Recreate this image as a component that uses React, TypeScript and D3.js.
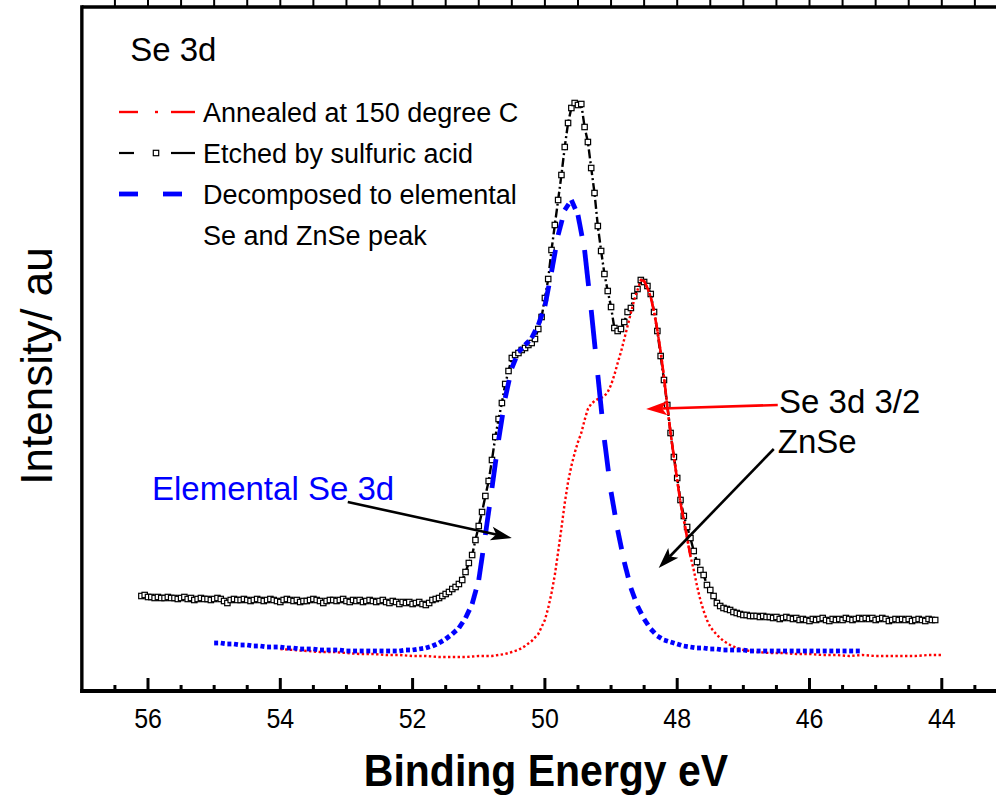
import React from "react";
import * as d3 from "d3";

// Etched by sulfuric acid: regular energy grid, intensity in a.u.
const etchedStart = 56.1;
const etchedStep = 0.05;
const etchedIntensity = [
  95, 96, 94, 94, 93, 94, 93, 93, 94, 93,
  93, 92, 93, 94, 92, 93, 91, 92, 93, 92,
  92, 91, 92, 93, 92, 90, 88, 91, 92, 91,
  91, 92, 91, 90, 91, 92, 91, 90, 91, 92,
  91, 90, 89, 91, 92, 91, 90, 91, 89, 90,
  90, 91, 92, 91, 90, 88, 90, 91, 91, 90,
  91, 92, 90, 89, 91, 90, 91, 89, 90, 91,
  90, 89, 90, 91, 89, 88, 90, 89, 87, 89,
  88, 89, 87, 88, 89, 87, 86, 88, 91, 92,
  93, 95, 97, 99, 102, 104, 107, 111, 119, 128,
  136, 151, 165, 179, 195, 210, 231, 254, 272, 288,
  307, 320, 333, 336, 338, 341, 343, 346, 348, 352,
  362, 374, 393, 412, 441, 466, 491, 516, 544, 568,
  583, 588, 586, 587, 564, 549, 523, 498, 465, 440,
  417, 400, 384, 363, 360, 362, 369, 379, 383, 395,
  402, 411, 409, 405, 397, 379, 360, 335, 311, 286,
  258, 234, 213, 191, 175, 164, 153, 140, 129, 121,
  116, 106, 101, 95, 88, 85, 83, 82, 81, 79,
  78, 77, 76, 76, 75, 75, 75, 74, 75, 74,
  74, 73, 74, 72, 73, 74, 73, 72, 73, 71,
  72, 71, 70, 72, 71, 72, 73, 71, 70, 72,
  71, 72, 71, 73, 72, 71, 72, 73, 72, 73,
  72, 73, 71, 72, 73, 72, 70, 71, 72, 71,
  72, 71, 72, 70, 71, 72, 71, 70, 72, 71,
  71,
];

// Annealed at 150 degree C: [binding energy eV, intensity]
const annealed: [number, number][] = [
  [54.0, 42], [53.8, 41], [53.6, 40], [53.4, 39], [53.2, 39], [53.0, 38],
  [52.8, 37], [52.6, 37], [52.4, 36], [52.2, 36], [52.0, 35], [51.8, 35],
  [51.6, 34], [51.4, 34], [51.2, 34], [51.0, 35], [50.8, 35], [50.6, 37],
  [50.5, 39], [50.4, 41], [50.3, 45], [50.2, 50], [50.1, 57], [50.0, 71],
  [49.95, 83], [49.9, 98], [49.85, 116], [49.8, 139], [49.75, 163], [49.7, 188],
  [49.65, 209], [49.6, 225], [49.55, 238], [49.5, 249], [49.45, 258], [49.4, 271],
  [49.35, 282], [49.3, 287], [49.25, 290], [49.2, 292], [49.15, 293], [49.1, 295],
  [49.05, 299], [49.0, 306], [48.95, 316], [48.9, 328], [48.85, 339], [48.8, 352],
  [48.75, 365], [48.7, 378], [48.65, 391], [48.6, 401], [48.55, 411], [48.5, 410],
  [48.45, 403], [48.4, 394], [48.35, 379], [48.3, 361], [48.25, 339], [48.2, 314],
  [48.15, 285], [48.1, 258], [48.05, 234], [48.0, 211], [47.95, 188], [47.9, 171],
  [47.85, 153], [47.8, 135], [47.75, 121], [47.7, 105], [47.65, 91], [47.6, 80],
  [47.55, 71], [47.5, 64], [47.4, 56], [47.3, 50], [47.2, 46], [47.1, 43],
  [47.0, 41], [46.8, 39], [46.6, 38], [46.4, 38], [46.2, 37], [46.0, 37],
  [45.8, 36], [45.6, 36], [45.4, 35], [45.2, 36], [45.0, 35], [44.8, 35],
  [44.6, 35], [44.4, 35], [44.2, 36], [44.0, 36],
];
// steep part of the annealed curve that reads as a solid dash-dot line
const annealedSolidRange = [47.8, 48.55];

// Decomposed elemental Se + ZnSe fit
const decomposedStart = 55.0;
const decomposedStep = 0.1;
const decomposedIntensity = [
  48, 48, 47, 47, 46, 46, 45, 45, 44, 44,
  44, 43, 43, 42, 42, 42, 41, 41, 41, 41,
  40, 40, 40, 40, 40, 40, 40, 40, 40, 41,
  41, 42, 43, 45, 48, 52, 57, 63, 73, 87,
  111, 156, 203, 251, 293, 323, 339, 346, 353, 366,
  385, 419, 456, 481, 491, 476, 441, 381, 316, 251,
  199, 161, 129, 103, 85, 72, 62, 55, 51, 49,
  47, 45, 44, 43, 43, 42, 42, 41, 41, 41,
  41, 40, 40, 40, 40, 40, 40, 40, 40, 40,
  40, 40, 40, 40, 40, 40, 40, 40, 40,
];

const majorTicks = [56, 54, 52, 50, 48, 46, 44];
const minorTicks = [
  56.5, 55.5, 55, 54.5, 53.5, 53, 52.5, 51.5, 51, 50.5, 49.5, 49, 48.5,
  47.5, 47, 46.5, 45.5, 45, 44.5, 43.5,
];

const legendItems = [
  { label: "Annealed at 150 degree C", kind: "red" },
  { label: "Etched by sulfuric acid", kind: "black" },
  { label: "Decomposed to elemental", kind: "blue" },
  { label: "Se and ZnSe peak", kind: "none" },
];

// annotations in data coordinates (eV, intensity)
const arrows = [
  { from: [46.48, 286], to: [48.47, 282], color: "#ff0000" },
  { from: [52.98, 189], to: [50.5, 153], color: "#000" },
  { from: [46.54, 242], to: [48.28, 123], color: "#000" },
];
const labels = [
  { text: "Se 3d 3/2", at: [46.46, 278], color: "#000" },
  { text: "ZnSe", at: [46.48, 238], color: "#000" },
  { text: "Elemental Se 3d", at: [55.94, 191], color: "#0000ff" },
  { text: "Se 3d", at: [56.27, 630], color: "#000" },
];

const FONT = "'Liberation Sans', Arial, Helvetica, sans-serif";

function Arrow({ x1, y1, x2, y2, color }) {
  const ang = Math.atan2(y2 - y1, x2 - x1);
  const len = 21;
  const half = 7;
  const bx = x2 - len * Math.cos(ang);
  const by = y2 - len * Math.sin(ang);
  const nx = x2 - (len - 5) * Math.cos(ang);
  const ny = y2 - (len - 5) * Math.sin(ang);
  const px = -Math.sin(ang) * half;
  const py = Math.cos(ang) * half;
  const head = `M${x2},${y2}L${bx + px},${by + py}L${nx},${ny}L${bx - px},${by - py}Z`;
  return (
    <g>
      <line x1={x1} y1={y1} x2={nx} y2={ny} stroke={color} strokeWidth={2.6} />
      <path d={head} fill={color} />
    </g>
  );
}

export default function App() {
  const width = 996;
  const height = 797;
  const x = d3.scaleLinear().domain([57, 43]).range([81.85, 1007.95]);
  const y = d3.scaleLinear().domain([0, 684]).range([691, 7]);

  const etched = etchedIntensity.map((v, i) => [etchedStart - etchedStep * i, v]);
  const decomposed = decomposedIntensity.map((v, i) => [
    decomposedStart - decomposedStep * i,
    v,
  ]);

  const line = d3
    .line<number[]>()
    .x((d) => x(d[0]))
    .y((d) => y(d[1]));

  const annealedSolid = annealed.filter(
    (d) => d[0] >= annealedSolidRange[0] && d[0] <= annealedSolidRange[1]
  );

  // blue fit: dash pattern restarts on every segment, like the original plot
  const blueSegs = d3.pairs(decomposed).map(([a, b], i) => {
    const x1 = x(a[0]);
    const y1 = y(a[1]);
    const x2 = x(b[0]);
    const y2 = y(b[1]);
    const L = Math.hypot(x2 - x1, y2 - y1);
    return (
      <line
        key={i}
        x1={x1}
        y1={y1}
        x2={x2}
        y2={y2}
        stroke="#0000ff"
        strokeWidth={4.8}
        strokeDasharray={`${(L * 0.6).toFixed(2)} ${L.toFixed(2)}`}
      />
    );
  });

  const axisY = y(0);
  const topY = y(684);
  const sq = 5.4;

  return (
    <svg
      width={width}
      height={height}
      style={{ position: "absolute", left: 0, top: 0, background: "#fff" }}
      fontFamily={FONT}
    >
      <rect width={width} height={height} fill="#fff" />

      {/* etched: dash-dot line with open squares */}
      <path
        d={line(etched)}
        fill="none"
        stroke="#000"
        strokeWidth={2.4}
        strokeDasharray="9 3 2 3"
      />
      {etched.map((d, i) => (
        <rect
          key={i}
          x={x(d[0]) - sq / 2}
          y={y(d[1]) - sq / 2}
          width={sq}
          height={sq}
          fill="#fff"
          stroke="#000"
          strokeWidth={1.2}
        />
      ))}

      {/* annealed */}
      <path
        d={line(annealed)}
        fill="none"
        stroke="#ff0000"
        strokeWidth={2.4}
        strokeDasharray="2.4 2.4"
      />
      <path
        d={line(annealedSolid)}
        fill="none"
        stroke="#ff0000"
        strokeWidth={2.6}
        strokeDasharray="14 2.5 2 2.5"
      />

      {/* decomposed */}
      <g>{blueSegs}</g>

      {/* frame */}
      <line x1={x(57)} y1={topY} x2={x(43)} y2={topY} stroke="#000" strokeWidth={3.4} />
      <line x1={x(57)} y1={topY - 1.7} x2={x(57)} y2={axisY + 2} stroke="#000" strokeWidth={3.4} />
      <line x1={x(57) - 1.7} y1={axisY} x2={x(43)} y2={axisY} stroke="#000" strokeWidth={3.8} />
      <line x1={x(43)} y1={topY} x2={x(43)} y2={axisY} stroke="#000" strokeWidth={3.4} />

      {/* bottom ticks (inward) */}
      {majorTicks.map((t) => (
        <line key={"M" + t} x1={x(t)} x2={x(t)} y1={axisY} y2={axisY - 13} stroke="#000" strokeWidth={3} />
      ))}
      {minorTicks.map((t) => (
        <line key={"m" + t} x1={x(t)} x2={x(t)} y1={axisY} y2={axisY - 6} stroke="#000" strokeWidth={3} />
      ))}
      {/* top ticks (outward) */}
      {majorTicks.concat(minorTicks).map((t) => (
        <line key={"t" + t} x1={x(t)} x2={x(t)} y1={topY} y2={topY - 8} stroke="#000" strokeWidth={2} />
      ))}

      {majorTicks.map((t) => (
        <text
          key={"l" + t}
          transform={`translate(${x(t)},728) scale(0.96,1.08)`}
          fontSize={26}
          textAnchor="middle"
        >
          {t}
        </text>
      ))}

      <text
        transform="translate(546,786) scale(1,1.1)"
        fontSize={41}
        fontWeight="bold"
        textAnchor="middle"
      >
        Binding Energy eV
      </text>
      <text
        transform="translate(52,366) rotate(-90)"
        fontSize={44}
        textAnchor="middle"
      >
        Intensity/ au
      </text>

      {/* legend */}
      {legendItems.map((it, i) => {
        const ly = 112 + i * 41;
        let sample = null;
        if (it.kind === "red") {
          sample = (
            <g stroke="#ff0000" strokeWidth={2.4}>
              <line x1={119} x2={138} y1={ly} y2={ly} />
              <line x1={155} x2={158} y1={ly} y2={ly} />
              <line x1={171} x2={195} y1={ly} y2={ly} />
            </g>
          );
        } else if (it.kind === "black") {
          sample = (
            <g stroke="#000" strokeWidth={2.2}>
              <line x1={119} x2={134} y1={ly} y2={ly} />
              <line x1={171} x2={195} y1={ly} y2={ly} />
              <rect x={156 - sq / 2} y={ly - sq / 2} width={sq} height={sq} fill="#fff" strokeWidth={1.2} />
            </g>
          );
        } else if (it.kind === "blue") {
          sample = (
            <g stroke="#0000ff" strokeWidth={4.8}>
              <line x1={119} x2={138} y1={ly} y2={ly} />
              <line x1={163} x2={182} y1={ly} y2={ly} />
            </g>
          );
        }
        return (
          <g key={i}>
            {sample}
            <text x={203} y={ly + 10} fontSize={27}>
              {it.label}
            </text>
          </g>
        );
      })}

      {/* annotations */}
      {arrows.map((a, i) => (
        <Arrow
          key={i}
          x1={x(a.from[0])}
          y1={y(a.from[1])}
          x2={x(a.to[0])}
          y2={y(a.to[1])}
          color={a.color}
        />
      ))}
      {labels.map((l, i) => (
        <text key={i} x={x(l.at[0])} y={y(l.at[1])} fontSize={33} fill={l.color}>
          {l.text}
        </text>
      ))}
    </svg>
  );
}
